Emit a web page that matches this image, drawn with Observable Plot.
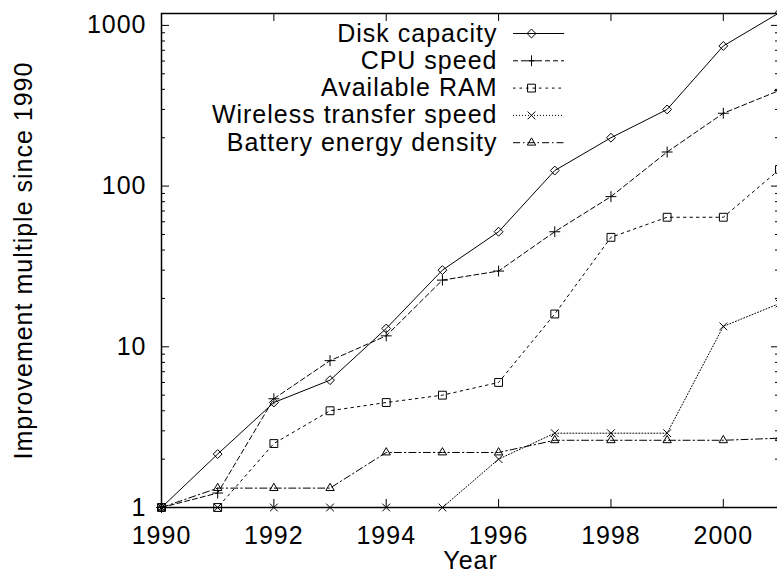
<!DOCTYPE html>
<html>
<head>
<meta charset="utf-8">
<script src="https://cdn.jsdelivr.net/npm/d3@7"></script>
<script src="https://cdn.jsdelivr.net/npm/@observablehq/plot@0.6"></script>
<style>
  html, body { margin: 0; padding: 0; background: #fff; overflow: hidden; }
  #chart svg { display: block; }
  #chart svg text { letter-spacing: 1px; }
</style>
</head>
<body>
<div id="chart"></div>
<script>
const years = [1990, 1991, 1992, 1993, 1994, 1995, 1996, 1997, 1998, 1999, 2000, 2001];
const seriesNames = ["Disk capacity", "CPU speed", "Available RAM", "Wireless transfer speed", "Battery energy density"];
const diskCapacity   = [1, 2.15, 4.5, 6.2, 13, 30, 52, 125, 200, 300, 745, 1200];
const cpuSpeed       = [1, 1.23, 4.75, 8.2, 11.7, 26, 29.6, 52, 86, 163, 284, 394];
const availableRam   = [1, 1, 2.5, 4, 4.5, 5, 6, 16, 48, 64, 64, 127];
const wirelessSpeed  = [1, 1, 1, 1, 1, 1, 2, 2.9, 2.9, 2.9, 13.4, 18.6];
const batteryDensity = [1, 1.32, 1.32, 1.32, 2.2, 2.2, 2.2, 2.62, 2.62, 2.62, 2.62, 2.7];
const xTicks = [1990, 1992, 1994, 1996, 1998, 2000];
const yTicks = [1, 10, 100, 1000];
const yMinorTicks = [2, 3, 4, 5, 6, 7, 8, 9, 20, 30, 40, 50, 60, 70, 80, 90, 200, 300, 400, 500, 600, 700, 800, 900];
const yLabel = "Improvement multiple since 1990";
const xLabel = "Year";

const seriesValues = [diskCapacity, cpuSpeed, availableRam, wirelessSpeed, batteryDensity];
const styles = [
  {dash: null, symbol: "diamond2", r: 4},
  {dash: "5,3", symbol: "plus", r: 3.6},
  {dash: "2.5,4", symbol: "square2", r: 5},
  {dash: "1,2", symbol: "times", r: 3.6},
  {dash: "7,3,1.5,3", symbol: "triangle2", r: 4}
];

const rows = seriesNames.flatMap((name, i) =>
  years.map((year, j) => ({series: name, year, value: seriesValues[i][j]})));

const W = 777, H = 575;
const mL = 161, mR = -2, mT = 13, mB = 68;
const plotW = W - mL - mR, plotH = H - mT - mB;
const font = "'Liberation Sans', Arial, Helvetica, sans-serif";
const fs = 25;

const marks = [];
// ticks (gnuplot style, inward, mirrored)
marks.push(Plot.tickY(yTicks, {y: d => d, insetRight: plotW - 8, stroke: "black", strokeWidth: 1}));
marks.push(Plot.tickY(yTicks, {y: d => d, insetLeft: plotW - 8, stroke: "black", strokeWidth: 1}));
marks.push(Plot.tickY(yMinorTicks, {y: d => d, insetRight: plotW - 4, stroke: "black", strokeWidth: 1}));
marks.push(Plot.tickY(yMinorTicks, {y: d => d, insetLeft: plotW - 4, stroke: "black", strokeWidth: 1}));
marks.push(Plot.tickX(xTicks, {x: d => d, insetTop: plotH - 8, stroke: "black", strokeWidth: 1}));
marks.push(Plot.tickX(xTicks, {x: d => d, insetBottom: plotH - 8, stroke: "black", strokeWidth: 1}));

// series
seriesNames.forEach((name, i) => {
  const d = rows.filter(r => r.series === name);
  const st = styles[i];
  marks.push(Plot.line(d, {x: "year", y: "value", stroke: "black", strokeWidth: 1, strokeDasharray: st.dash, clip: true}));
});
seriesNames.forEach((name, i) => {
  const d = rows.filter(r => r.series === name);
  const st = styles[i];
  marks.push(Plot.dot(d, {x: "year", y: "value", symbol: st.symbol, r: st.r, fill: "none", stroke: "black", strokeWidth: 1}));
});

// legend (inside plot, top right)
const legTextX = 497 - mL, legRow0 = 33 - mT, legStep = 27.3;
const legLineStart = 513, legLineEnd = 564, legMark = 531;
seriesNames.forEach((name, i) => {
  const st = styles[i];
  const dy = legRow0 + i * legStep;
  marks.push(Plot.text([name], {frameAnchor: "top-left", dx: legTextX, dy, textAnchor: "end", lineAnchor: "middle", fontSize: fs, fill: "black"}));
  marks.push(Plot.ruleY([name], {y: null, insetLeft: legLineStart - mL, insetRight: (W - mR) - legLineEnd,
    dy: (mT + legRow0 + i * legStep) - (mT + plotH / 2), stroke: "black", strokeWidth: 1, strokeDasharray: st.dash}));
  marks.push(Plot.dot([name], {frameAnchor: "top-left", dx: legMark - mL, dy, symbol: st.symbol, r: st.r, fill: "none", stroke: "black", strokeWidth: 1}));
});

// frame
marks.push(Plot.frame({stroke: "black", strokeWidth: 1.5}));

// axes
marks.push(Plot.axisY({ticks: yTicks, tickFormat: d => String(d), tickSize: 0, tickPadding: 15, fontSize: fs, label: null}));
marks.push(Plot.axisX({ticks: xTicks, tickFormat: d => String(d), tickSize: 0, tickPadding: 19, fontSize: fs, label: null}));
marks.push(Plot.text([xLabel], {frameAnchor: "bottom", dy: 53, textAnchor: "middle", lineAnchor: "middle", fontSize: fs, fill: "black"}));
marks.push(Plot.text([yLabel], {frameAnchor: "left", dx: -138, rotate: -90, textAnchor: "middle", lineAnchor: "middle", fontSize: fs, fill: "black"}));

const chart = Plot.plot({
  width: W, height: H,
  marginLeft: mL, marginRight: mR, marginTop: mT, marginBottom: mB,
  style: {fontFamily: font, fontSize: fs + "px", color: "black", background: "white"},
  x: {domain: [1990, 2001]},
  y: {type: "log", domain: [1, 1186]},
  marks
});
document.getElementById("chart").appendChild(chart);
</script>
</body>
</html>
